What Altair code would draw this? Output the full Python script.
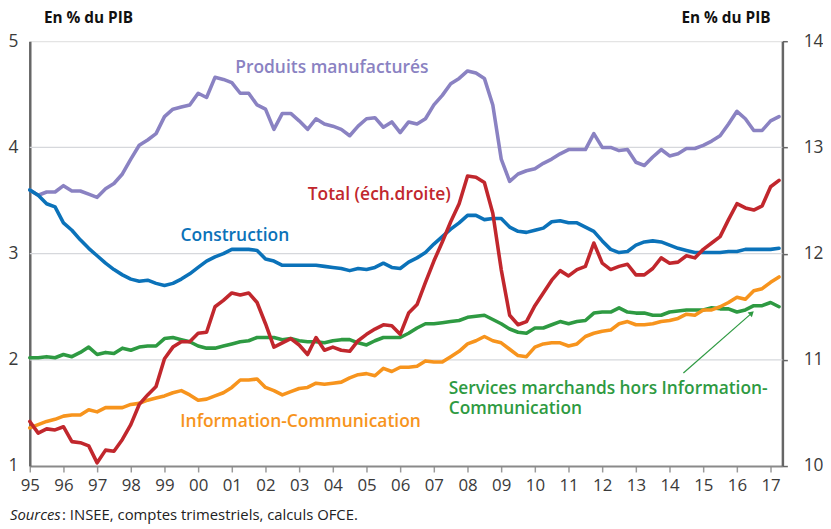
import altair as alt
import pandas as pd

# ---------------- data (quarterly, 1995T1 - 2017T2) ----------------
start_year = 1995
n_quarters = 90
t = [start_year + i / 4 for i in range(n_quarters)]

manuf = [3.60, 3.55, 3.58, 3.58, 3.64, 3.59, 3.59, 3.56, 3.53, 3.61,
         3.66, 3.75, 3.89, 4.02, 4.07, 4.13, 4.29, 4.36, 4.38, 4.40,
         4.51, 4.47, 4.66, 4.64, 4.61, 4.51, 4.51, 4.40, 4.36, 4.17,
         4.32, 4.32, 4.25, 4.17, 4.27, 4.22, 4.20, 4.17, 4.11, 4.20,
         4.27, 4.28, 4.19, 4.24, 4.14, 4.24, 4.22, 4.27, 4.40, 4.49,
         4.60, 4.65, 4.72, 4.70, 4.65, 4.40, 3.89, 3.68, 3.75, 3.78,
         3.80, 3.85, 3.89, 3.94, 3.98, 3.98, 3.98, 4.13, 4.00, 4.00,
         3.97, 3.98, 3.86, 3.83, 3.91, 3.98, 3.92, 3.94, 3.99, 3.99,
         4.02, 4.06, 4.11, 4.22, 4.34, 4.27, 4.16, 4.16, 4.25, 4.29]

constr = [3.60, 3.55, 3.47, 3.44, 3.29, 3.22, 3.13, 3.05, 2.98, 2.91,
          2.85, 2.80, 2.76, 2.74, 2.75, 2.72, 2.70, 2.72, 2.76, 2.81,
          2.87, 2.93, 2.97, 3.00, 3.04, 3.04, 3.04, 3.03, 2.95, 2.93,
          2.89, 2.89, 2.89, 2.89, 2.89, 2.88, 2.87, 2.86, 2.84, 2.86,
          2.85, 2.87, 2.91, 2.87, 2.86, 2.92, 2.96, 3.01, 3.09, 3.16,
          3.23, 3.29, 3.36, 3.36, 3.32, 3.33, 3.33, 3.25, 3.21, 3.20,
          3.22, 3.24, 3.30, 3.31, 3.29, 3.29, 3.25, 3.21, 3.12, 3.04,
          3.01, 3.02, 3.08, 3.11, 3.12, 3.11, 3.08, 3.05, 3.03, 3.01,
          3.01, 3.01, 3.01, 3.02, 3.02, 3.04, 3.04, 3.04, 3.04, 3.05]

services = [2.02, 2.02, 2.03, 2.02, 2.05, 2.03, 2.07, 2.12, 2.05, 2.07,
            2.06, 2.11, 2.09, 2.12, 2.13, 2.13, 2.20, 2.21, 2.19, 2.17,
            2.13, 2.11, 2.11, 2.13, 2.15, 2.17, 2.18, 2.21, 2.21, 2.21,
            2.19, 2.20, 2.18, 2.17, 2.17, 2.16, 2.18, 2.19, 2.19, 2.16,
            2.14, 2.18, 2.21, 2.21, 2.21, 2.25, 2.30, 2.34, 2.34, 2.35,
            2.36, 2.37, 2.40, 2.41, 2.42, 2.38, 2.34, 2.29, 2.26, 2.25,
            2.30, 2.30, 2.33, 2.36, 2.34, 2.36, 2.37, 2.44, 2.45, 2.45,
            2.49, 2.45, 2.44, 2.44, 2.42, 2.42, 2.45, 2.46, 2.47, 2.47,
            2.47, 2.49, 2.48, 2.48, 2.45, 2.47, 2.51, 2.51, 2.54, 2.50]

infocom = [1.36, 1.39, 1.42, 1.44, 1.47, 1.48, 1.48, 1.53, 1.51, 1.55,
           1.55, 1.55, 1.58, 1.59, 1.62, 1.64, 1.66, 1.69, 1.71, 1.67,
           1.62, 1.63, 1.66, 1.69, 1.74, 1.81, 1.81, 1.82, 1.74, 1.71,
           1.67, 1.70, 1.73, 1.74, 1.78, 1.77, 1.78, 1.79, 1.83, 1.86,
           1.87, 1.85, 1.92, 1.89, 1.93, 1.93, 1.94, 1.99, 1.98, 1.98,
           2.03, 2.08, 2.15, 2.18, 2.22, 2.18, 2.16, 2.10, 2.04, 2.03,
           2.12, 2.15, 2.16, 2.16, 2.13, 2.15, 2.22, 2.25, 2.27, 2.28,
           2.34, 2.36, 2.33, 2.33, 2.34, 2.36, 2.37, 2.39, 2.43, 2.42,
           2.47, 2.47, 2.50, 2.54, 2.59, 2.57, 2.65, 2.67, 2.73, 2.78]

# Total, right-hand scale
total = [10.42, 10.31, 10.35, 10.34, 10.37, 10.23, 10.22, 10.19, 10.03, 10.15,
         10.14, 10.25, 10.39, 10.58, 10.67, 10.75, 11.01, 11.12, 11.17, 11.17,
         11.25, 11.26, 11.50, 11.56, 11.63, 11.61, 11.63, 11.54, 11.34, 11.12,
         11.16, 11.20, 11.14, 11.05, 11.21, 11.09, 11.12, 11.09, 11.08, 11.18,
         11.24, 11.29, 11.33, 11.32, 11.24, 11.44, 11.52, 11.73, 11.93, 12.11,
         12.30, 12.47, 12.73, 12.72, 12.67, 12.38, 11.85, 11.42, 11.33, 11.36,
         11.51, 11.63, 11.75, 11.84, 11.79, 11.85, 11.88, 12.10, 11.91, 11.85,
         11.88, 11.90, 11.80, 11.80, 11.86, 11.96, 11.91, 11.92, 11.98, 11.96,
         12.04, 12.10, 12.16, 12.32, 12.47, 12.43, 12.41, 12.45, 12.63, 12.69]

series_names = ["Produits manufacturés", "Services marchands hors Information-Communication",
                "Information-Communication", "Construction"]
series_values = [manuf, services, infocom, constr]
series_colors = ["#8a82c2", "#2e9a42", "#f7941d", "#0b72b9"]
total_color = "#c1272d"

year_ticks = list(range(1995, 2018))
left_ticks = [1, 2, 3, 4, 5]
right_ticks = [10, 11, 12, 13, 14]
grid_values = [2, 3, 4]

# annotations: text, x (year), y (left-scale value), color, align, weight, style, size
ann_text = ["Produits manufacturés", "Total (éch.droite)", "Construction",
            "Information-Communication",
            "Services marchands hors Information-\nCommunication",
            "En % du PIB", "En % du PIB", "Sources",
            ": INSEE, comptes trimestriels, calculs OFCE."]
ann_x = [2003.97, 2005.38, 2001.09, 1999.47, 2007.44, 1995.42, 2017.0, 1994.41, 1995.96]
ann_y = [4.745, 3.555, 3.165, 1.415, 1.725, 5.22, 5.22, 0.535, 0.535]
ann_color = [series_colors[0], total_color, series_colors[3], series_colors[2],
             series_colors[1], "#111111", "#111111", "#222222", "#222222"]
ann_align = ["center", "center", "center", "left", "left", "left", "right", "left", "left"]
ann_weight = [600, 600, 600, 600, 600, "bold", "bold", "normal", "normal"]
ann_style = ["normal"] * 7 + ["italic", "normal"]
ann_size = [17.6, 17.6, 17.6, 17.6, 17.5, 15.5, 15.5, 15, 15]

arrow_x = [2014.41]
arrow_y = [1.876]
arrow_x2 = [2016.44]
arrow_y2 = [2.44]

FONT = "Open Sans"

xscale = alt.Scale(domain=[1995, 2017.35], nice=False, zero=False)
ylscale = alt.Scale(domain=[1, 5], nice=False, zero=False)
yrscale = alt.Scale(domain=[10, 14], nice=False, zero=False)

x_axis = alt.Axis(values=year_ticks, labelExpr="substring(toString(datum.value), 2, 4)",
                  title=None, grid=False, domainColor="#8a8a8a", domainWidth=2,
                  tickColor="#9a9a9a", tickWidth=1.5, tickSize=6, labelPadding=6,
                  labelFontSize=17, labelColor="#3a3a3a", labelFlush=False,
                  labelOverlap=False, labelFont=FONT)
yl_axis = alt.Axis(values=left_ticks, format="d", title=None, grid=False,
                   domainColor="#666666", domainWidth=2.5, ticks=False, tickSize=0,
                   labelPadding=12, labelFontSize=17.5, labelColor="#3a3a3a", labelFont=FONT)
yr_axis = alt.Axis(values=right_ticks, format="d", title=None, grid=False, orient="right",
                   domainColor="#666666", domainWidth=2.5, ticks=True, tickSize=5,
                   tickColor="#666666", tickWidth=1.5,
                   labelPadding=16, labelFontSize=17.5, labelColor="#3a3a3a", labelFont=FONT)

X = lambda f: alt.X(f, scale=xscale, axis=x_axis)
YL = lambda f: alt.Y(f, scale=ylscale, axis=yl_axis)

# ---- left-scale layers ----
grid = alt.Chart(pd.DataFrame({"g": grid_values})).mark_rule(
    color="#d6d8dc", strokeWidth=1.2).encode(y=YL("g:Q"))

layers = [grid]
for name, vals, col in zip(series_names, series_values, series_colors):
    df = pd.DataFrame({"t": t, "v": vals})
    layers.append(alt.Chart(df).mark_line(color=col, strokeWidth=3.6,
                                          strokeJoin="round", strokeCap="round").encode(
        x=X("t:Q"), y=YL("v:Q")))

for i in range(len(ann_text)):
    df = pd.DataFrame({"x": [ann_x[i]], "y": [ann_y[i]], "txt": [ann_text[i]]})
    layers.append(alt.Chart(df).mark_text(
        font=FONT, fontSize=ann_size[i], fontWeight=ann_weight[i], fontStyle=ann_style[i],
        color=ann_color[i], align=ann_align[i], baseline="middle",
        lineBreak="\n", lineHeight=20.5).encode(
        x=X("x:Q"), y=YL("y:Q"), text="txt:N"))

arrow_df = pd.DataFrame({"x": arrow_x, "y": arrow_y, "x2": arrow_x2, "y2": arrow_y2})
layers.append(alt.Chart(arrow_df).mark_rule(color="#2e9a42", strokeWidth=1.2).encode(
    x=X("x:Q"), x2="x2:Q", y=YL("y:Q"), y2="y2:Q"))
layers.append(alt.Chart(arrow_df).mark_point(shape="triangle-up", filled=True, opacity=1,
                                             color="#2e9a42", size=40, angle=48).encode(
    x=X("x2:Q"), y=YL("y2:Q")))

left = alt.layer(*layers)

# ---- right-scale layer ----
right = alt.Chart(pd.DataFrame({"t": t, "v": total})).mark_line(
    color=total_color, strokeWidth=3.6, strokeJoin="round", strokeCap="round").encode(
    x=X("t:Q"),
    y=alt.Y("v:Q", scale=yrscale, axis=yr_axis))

chart = alt.layer(left, right).resolve_scale(y="independent").properties(
    width=760, height=429,
    autosize=alt.AutoSizeParams(type="none"),
    padding={"left": 22, "top": 31, "right": 41, "bottom": 57},
    background="white",
).configure_view(fill="#f0f1f4", strokeWidth=0).configure(font=FONT)

chart.save("out.html", embed_options={"renderer": "svg", "actions": False})
